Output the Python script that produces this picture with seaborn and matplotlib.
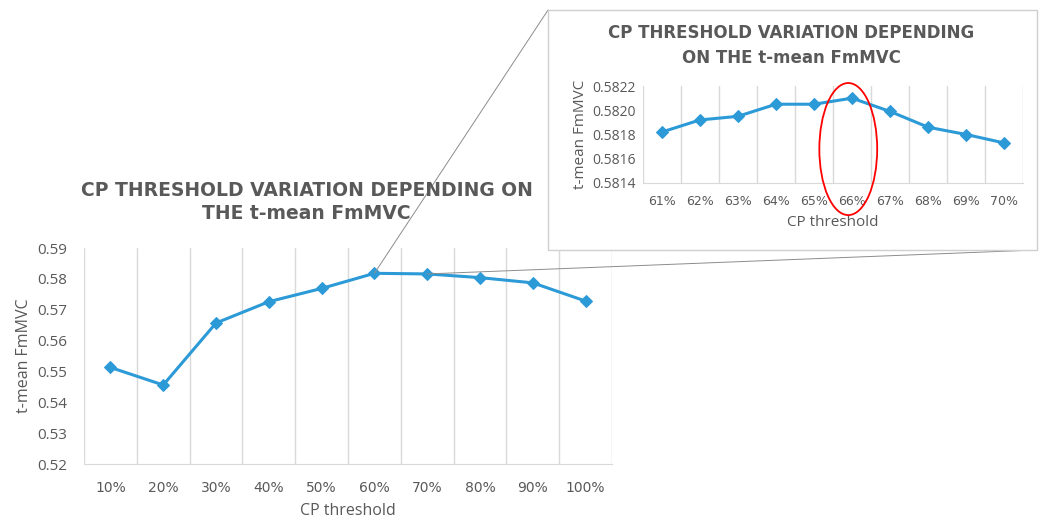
import matplotlib
matplotlib.use("Agg")
import matplotlib.pyplot as plt
import seaborn as sns
from matplotlib.patches import Rectangle, Ellipse, ConnectionPatch

# main chart data
thresholds = ["10%", "20%", "30%", "40%", "50%", "60%", "70%", "80%", "90%", "100%"]
fmmvc = [0.5513, 0.5456, 0.5657, 0.5726, 0.5769, 0.5818, 0.5816, 0.5804, 0.5787, 0.5728]

# zoomed chart data
thresholds_zoom = ["61%", "62%", "63%", "64%", "65%", "66%", "67%", "68%", "69%", "70%"]
fmmvc_zoom = [0.58182, 0.58192, 0.58195, 0.58205, 0.58205, 0.58210, 0.58199, 0.58186, 0.58180, 0.58173]

title_text = "CP THRESHOLD VARIATION DEPENDING ON\nTHE t-mean FmMVC"
title_zoom = "CP THRESHOLD VARIATION DEPENDING\nON THE t-mean FmMVC"

line_color = "#2C9AD7"
text_color = "#595959"
grid_color = "#D9D9D9"

sns.set_style("white")
plt.rcParams["font.family"] = ["Open Sans", "DejaVu Sans"]


def style_axes(ax, labels, tick_size):
    n = len(labels)
    ax.set_xlim(-0.5, n - 0.5)
    ax.set_xticks(range(n))
    ax.set_xticklabels(labels)
    ax.set_xticks([i - 0.5 for i in range(n + 1)], minor=True)
    ax.grid(False)
    ax.grid(True, which="minor", axis="x", color=grid_color, linewidth=1)
    for s in ["top", "right", "left"]:
        ax.spines[s].set_visible(False)
    ax.spines["bottom"].set_color(grid_color)
    ax.tick_params(axis="both", which="both", length=0, labelsize=tick_size,
                   labelcolor=text_color)
    ax.tick_params(axis="x", pad=12)
    ax.set_facecolor("none")


fig = plt.figure(figsize=(10.4, 5.24), dpi=100)

# main chart
ax = fig.add_axes([0.0808, 0.1145, 0.5077, 0.4122])
sns.lineplot(x=list(range(len(thresholds))), y=fmmvc, ax=ax, color=line_color,
             linewidth=2.2, marker="D", markersize=6, markeredgecolor=line_color)
style_axes(ax, thresholds, 11)
for t in ax.get_xticklabels():
    t.set_fontfamily("DejaVu Sans")
    t.set_fontsize(10)
ax.set_ylim(0.52, 0.59)
ax.set_yticks([0.52, 0.53, 0.54, 0.55, 0.56, 0.57, 0.58, 0.59])
ax.set_yticklabels([f"{v:.2f}" for v in ax.get_yticks()])
ax.tick_params(axis="y", pad=12)
ax.set_xlabel("CP threshold", fontsize=11.5, color=text_color, labelpad=6)
ax.set_ylabel("t-mean FmMVC", fontsize=11.5, color=text_color, labelpad=4)
fig.text(0.295, 0.614, title_text, ha="center", va="center", fontsize=13.5,
         fontweight="bold", color=text_color, linespacing=1.25,
         family=["DejaVu Sans"])

# inset frame
fig.patches.append(Rectangle((0.527, 0.523), 0.470, 0.458, transform=fig.transFigure,
                             facecolor="white", edgecolor="#D0D0D0", linewidth=1,
                             zorder=2))

# zoomed chart
axz = fig.add_axes([0.618, 0.6508, 0.366, 0.185], zorder=3)
sns.lineplot(x=list(range(len(thresholds_zoom))), y=fmmvc_zoom, ax=axz,
             color=line_color, linewidth=2.2, marker="D", markersize=6,
             markeredgecolor=line_color)
style_axes(axz, thresholds_zoom, 10)
for t in axz.get_xticklabels():
    t.set_fontfamily("DejaVu Sans")
    t.set_fontsize(9)
axz.tick_params(axis="x", pad=9)
axz.tick_params(axis="y", pad=5)
axz.set_ylim(0.5814, 0.5822)
axz.set_yticks([0.5814, 0.5816, 0.5818, 0.5820, 0.5822])
axz.set_yticklabels([f"{v:.4f}" for v in axz.get_yticks()])
axz.set_xlabel("CP threshold", fontsize=11, color=text_color, labelpad=5)
axz.set_ylabel("t-mean FmMVC", fontsize=11, color=text_color, labelpad=3)
fig.text(0.761, 0.914, title_zoom, ha="center", va="center", fontsize=12,
         fontweight="bold", color=text_color, linespacing=1.5, zorder=4,
         family=["DejaVu Sans"])

axz.add_patch(Ellipse((4.9, 0.58168), 1.52, 0.00109, fill=False, edgecolor="red",
                      linewidth=1.3, clip_on=False, zorder=5))

# connector lines from main chart to the inset
for idx, corner in [(5, (0.527, 0.981)), (6, (0.997, 0.523))]:
    con = ConnectionPatch(xyA=(idx, fmmvc[idx]), coordsA=ax.transData,
                          xyB=corner, coordsB=fig.transFigure,
                          color="#8C8C8C", linewidth=0.7, zorder=1)
    fig.add_artist(con)

fig.savefig("out.png", dpi=100)
